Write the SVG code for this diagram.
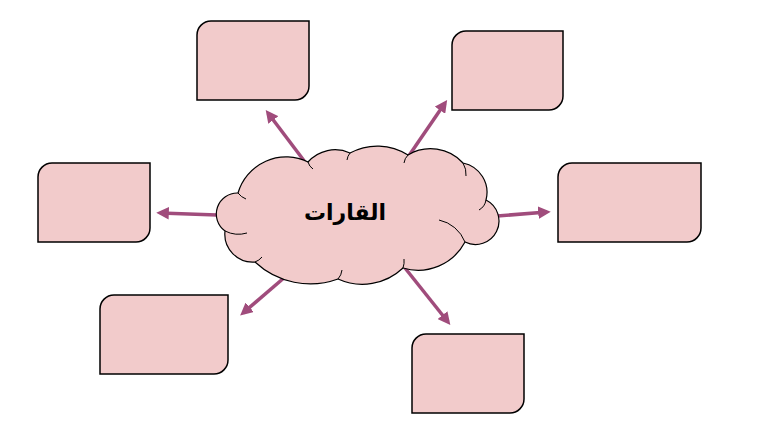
<svg xmlns="http://www.w3.org/2000/svg" width="757" height="436" viewBox="0 0 757 436">
<defs>
<style>
.box{fill:#F2CBCB;stroke:#000;stroke-width:1.5}
.cloud{fill:#F2CBCB;stroke:#000;stroke-width:1.2}
.inner{fill:none;stroke:#000;stroke-width:1}
.arr{stroke:#A04C7C;stroke-width:3.5;fill:none;marker-end:url(#ah)}
.lbl{font-family:"DejaVu Sans","Liberation Sans",sans-serif;font-weight:bold;font-size:22px;fill:#000}
</style>
<marker id="ah" viewBox="0 0 10 10" refX="7" refY="5" markerWidth="3.6" markerHeight="3.6" orient="auto" markerUnits="strokeWidth">
<path d="M0,0 L10,5 L0,10 z" fill="#A04C7C"/>
</marker>
</defs>
<rect width="757" height="436" fill="#fff"/>
<g id="connectors">
<line class="arr" x1="305" y1="162" x2="268" y2="113"/>
<line class="arr" x1="408" y1="157" x2="445" y2="103"/>
<line class="arr" x1="217" y1="215" x2="160" y2="213"/>
<line class="arr" x1="497" y1="216" x2="547" y2="212"/>
<line class="arr" x1="285" y1="277" x2="243" y2="313"/>
<line class="arr" x1="405" y1="268" x2="448" y2="322"/>
</g>
<g id="cloud">
<path class="cloud" d="M225,231 A21,21 0 0 1 238,193 A50,50 0 0 1 308,162 A36,36 0 0 1 350,153 A57,57 0 0 1 408,155 A44,44 0 0 1 463,163 A30,30 0 0 1 486,200 A23,23 0 1 1 465,242 A53,53 0 0 1 403,268 A59,59 0 0 1 338,279 A81,81 0 0 1 255,262 A28,28 0 0 1 225,231 Z"/>
<path class="inner" d="M238,193 A18,18 0 0 0 246,199"/>
<path class="inner" d="M308,162 A12,12 0 0 0 313,169"/>
<path class="inner" d="M350,153 A14,14 0 0 0 347,160"/>
<path class="inner" d="M408,155 A14,14 0 0 0 404,163"/>
<path class="inner" d="M463,163 A22,22 0 0 1 466,176"/>
<path class="inner" d="M486,200 A14,14 0 0 1 479,210"/>
<path class="inner" d="M465,242 A36,36 0 0 0 439,220"/>
<path class="inner" d="M403,268 A20,20 0 0 0 404,259"/>
<path class="inner" d="M338,279 A16,16 0 0 0 342,270"/>
<path class="inner" d="M255,262 A16,16 0 0 0 262,257"/>
<path class="inner" d="M225,231 A30,30 0 0 0 247,233"/>
<text class="lbl" x="345" y="220" text-anchor="middle" direction="rtl">القارات</text>
</g>
<g id="box-top-left"><path class="box" d="M211,21 H309 V86 A14,14 0 0 1 295,100 H197 V35 A14,14 0 0 1 211,21 Z"/></g>
<g id="box-top-right"><path class="box" d="M466,31 H563 V96 A14,14 0 0 1 549,110 H452 V45 A14,14 0 0 1 466,31 Z"/></g>
<g id="box-left"><path class="box" d="M52,163 H150 V228 A14,14 0 0 1 136,242 H38 V177 A14,14 0 0 1 52,163 Z"/></g>
<g id="box-right"><path class="box" d="M572,163 H701 V228 A14,14 0 0 1 687,242 H558 V177 A14,14 0 0 1 572,163 Z"/></g>
<g id="box-bottom-left"><path class="box" d="M114,295 H228 V360 A14,14 0 0 1 214,374 H100 V309 A14,14 0 0 1 114,295 Z"/></g>
<g id="box-bottom"><path class="box" d="M426,334 H524 V399 A14,14 0 0 1 510,413 H412 V348 A14,14 0 0 1 426,334 Z"/></g>
</svg>
